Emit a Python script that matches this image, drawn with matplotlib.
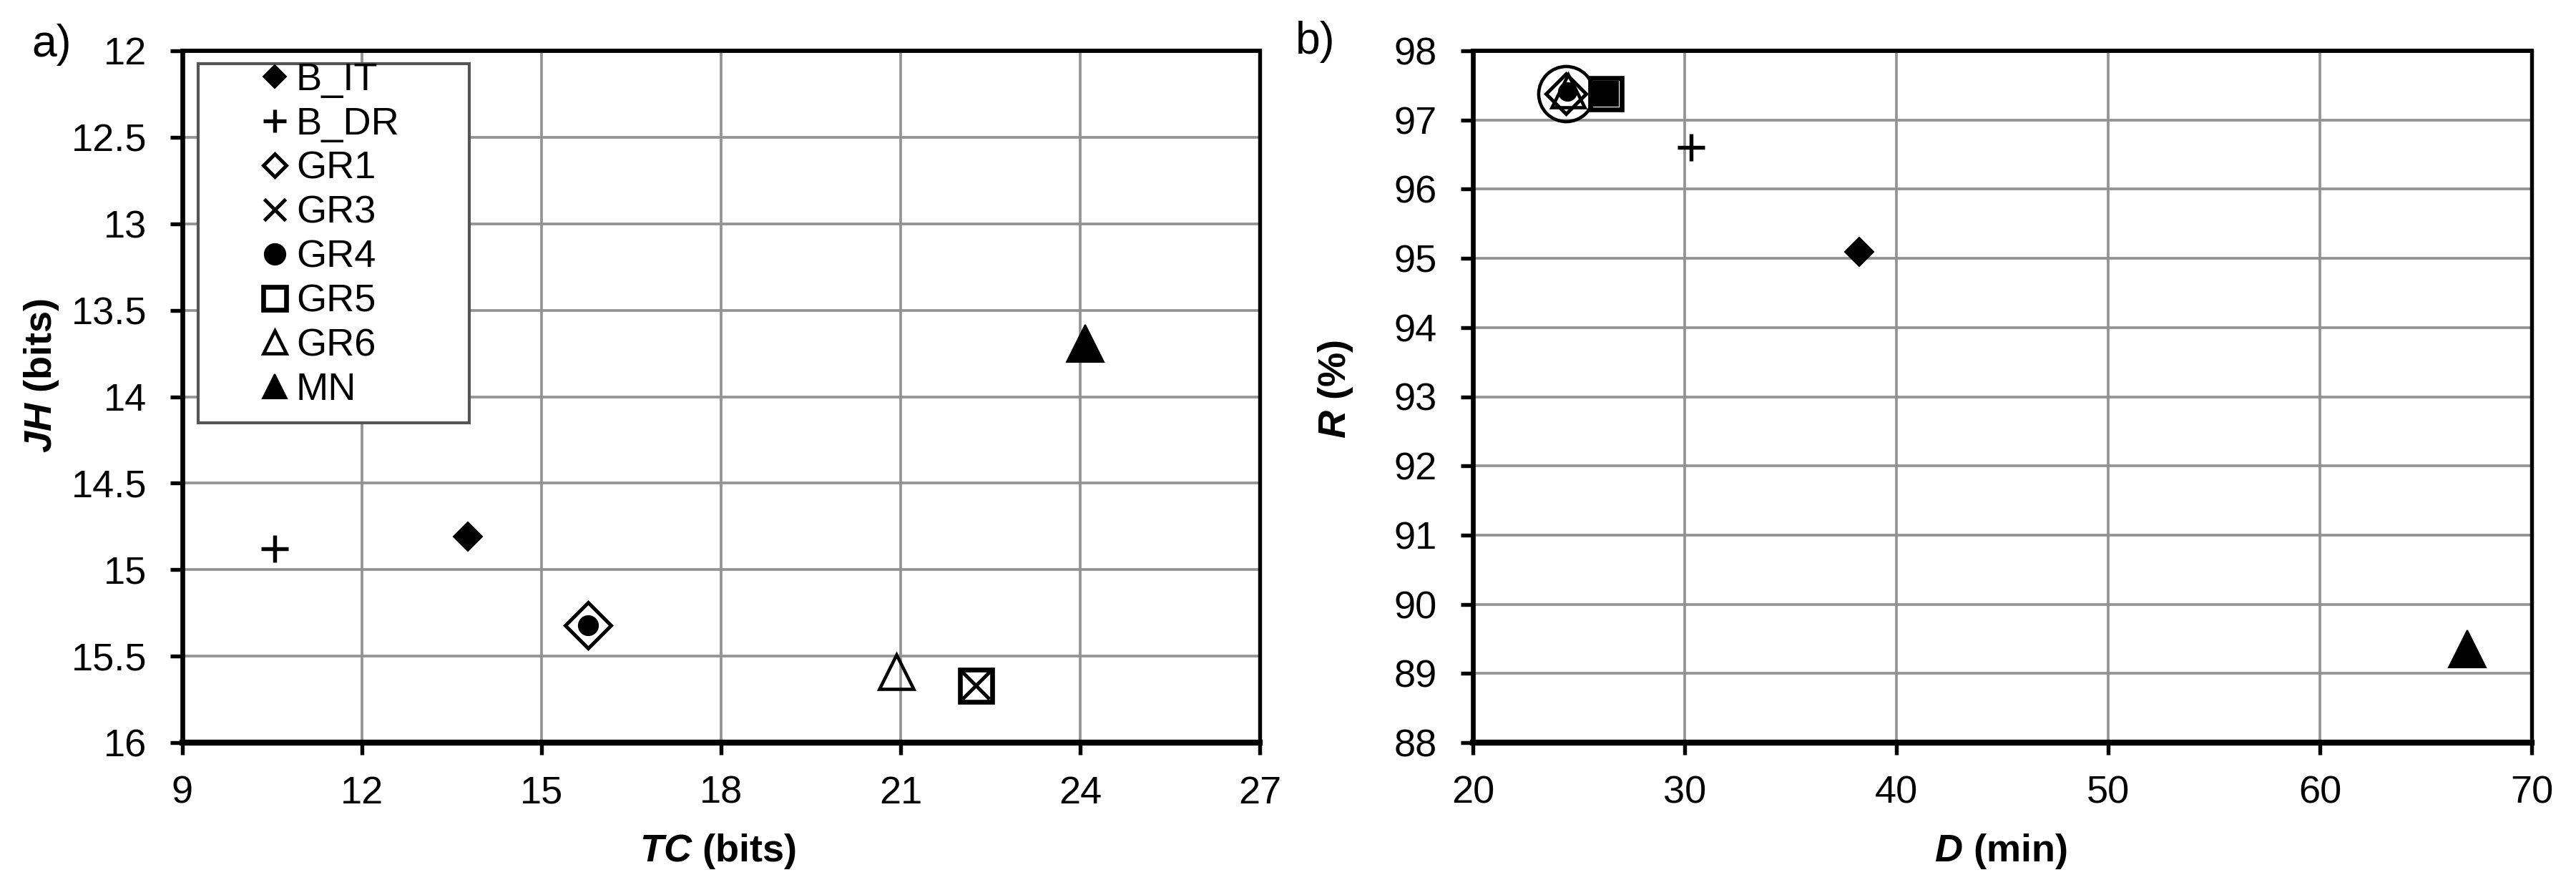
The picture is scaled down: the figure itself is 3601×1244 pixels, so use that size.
import matplotlib
matplotlib.use('Agg')
import matplotlib.pyplot as plt
from matplotlib.lines import Line2D
from matplotlib.patches import Rectangle
from matplotlib.ticker import FuncFormatter

plt.rcParams['font.family'] = ['Liberation Sans', 'DejaVu Sans']
plt.rcParams['mathtext.fontset'] = 'custom'
plt.rcParams['mathtext.it'] = 'Liberation Sans:italic:bold'
plt.rcParams['mathtext.rm'] = 'Liberation Sans:bold'
plt.rcParams['mathtext.bf'] = 'Liberation Sans:bold'

# ---------------- data ----------------
series = ['B_IT', 'B_DR', 'GR1', 'GR3', 'GR4', 'GR5', 'GR6', 'MN']
tc_bits = [13.77, 10.54, 15.78, 22.25, 15.78, 22.25, 20.93, 24.08]
jh_bits = [14.81, 14.88, 15.32, 15.67, 15.32, 15.67, 15.59, 13.69]
d_min = [38.24, 30.30, 24.40, 26.30, 24.45, 26.30, 24.50, 66.96]
r_pct = [95.09, 96.60, 97.38, 97.38, 97.41, 97.38, 97.42, 89.35]

tc_ticks = [9, 12, 15, 18, 21, 24, 27]
jh_ticks = [12, 12.5, 13, 13.5, 14, 14.5, 15, 15.5, 16]
d_ticks = [20, 30, 40, 50, 60, 70]
r_ticks = [88, 89, 90, 91, 92, 93, 94, 95, 96, 97, 98]

# ---------------- styles ----------------
K = 'black'
style_a = {
    'B_IT': dict(marker='D', mfc=K, mec=K, ms=6.8, mew=0.5),
    'B_DR': dict(marker='+', mfc=K, mec=K, ms=9, mew=1.3),
    'GR1': dict(marker='D', mfc='none', mec=K, ms=11, mew=1.2),
    'GR3': dict(marker='x', mfc=K, mec=K, ms=9, mew=1.2),
    'GR4': dict(marker='o', mfc=K, mec=K, ms=6.5, mew=0.5),
    'GR5': dict(marker='s', mfc='none', mec=K, ms=10.8, mew=1.6),
    'GR6': dict(marker='^', mfc='none', mec=K, ms=11.5, mew=1.1),
    'MN': dict(marker='^', mfc=K, mec=K, ms=12.7, mew=0.5),
}
style_b = dict(style_a)
style_b['GR1'] = dict(marker='D', mfc='none', mec=K, ms=9.5, mew=1.2)
style_b['GR3'] = dict(marker='s', mfc=K, mec=K, ms=8, mew=0.5)
style_b['GR4'] = dict(marker='o', mfc=K, mec=K, ms=6, mew=0.5)
style_b['GR5'] = dict(marker='s', mfc='none', mec=K, ms=10.5, mew=1.6)
style_b['GR6'] = dict(marker='^', mfc='none', mec=K, ms=11, mew=1.1)
legend_ms = {'B_IT': 5.5, 'B_DR': 7.5, 'GR1': 5.5, 'GR3': 7, 'GR4': 7,
             'GR5': 7.5, 'GR6': 7.5, 'MN': 8}

GRID = '#939393'
FS = 13

fig = plt.figure(figsize=(3601 / 300, 1244 / 300), dpi=300)
axA = fig.add_axes([255 / 3601, 1 - 1038 / 1244, 1506 / 3601, 967 / 1244])
axB = fig.add_axes([2059 / 3601, 1 - 1038 / 1244, 1480 / 3601, 967 / 1244])


def style_axes(ax):
    ax.set_axisbelow(True)
    ax.grid(True, color=GRID, lw=0.9)
    ax.tick_params(axis='both', which='major', direction='out', length=4,
                   width=1.3, labelsize=FS, colors='black')
    ax.tick_params(axis='y', pad=8)
    ax.tick_params(axis='x', pad=7)
    ax.tick_params(top=False, right=False)
    for side, lw in (('left', 1.6), ('bottom', 2.0), ('top', 1.4), ('right', 1.3)):
        ax.spines[side].set_linewidth(lw)
        ax.spines[side].set_color('black')


fmt = FuncFormatter(lambda v, p: f'{v:g}')

# ---------------- panel a ----------------
for name, x, y in zip(series, tc_bits, jh_bits):
    axA.plot([x], [y], ls='none', zorder=3, **style_a[name])
axA.set_xlim(tc_ticks[0], tc_ticks[-1])
axA.set_ylim(jh_ticks[-1], jh_ticks[0])
axA.set_xticks(tc_ticks)
axA.set_yticks(jh_ticks)
axA.xaxis.set_major_formatter(fmt)
axA.yaxis.set_major_formatter(fmt)
style_axes(axA)
axA.set_xlabel(r'$\mathit{TC}$ (bits)', fontsize=FS, fontweight='bold', va='center')
axA.set_ylabel(r'$\mathit{JH}$ (bits)', fontsize=FS, fontweight='bold', va='center')
axA.xaxis.set_label_coords(0.497, -0.157)
axA.yaxis.set_label_coords(-0.131, 0.53)

handles = []
for name in series:
    st = dict(style_a[name])
    st['ms'] = legend_ms[name]
    handles.append(Line2D([], [], ls='none', **st))
leg = axA.legend(handles, series, loc='upper left', bbox_to_anchor=(0.0677, 0.9835),
                 frameon=False, fontsize=FS, handlelength=1.0, handletextpad=0.05,
                 labelspacing=0.22, borderpad=0, borderaxespad=0)
axA.add_patch(Rectangle((0.0146, 0.4623), 0.266 - 0.0146, 0.9814 - 0.4623,
                        transform=axA.transAxes, fill=True, fc='white', ec='#555555',
                        lw=1.0, zorder=4))
leg.set_zorder(5)

# ---------------- panel b ----------------
i_gr1 = series.index('GR1')
axB.plot([d_min[i_gr1]], [r_pct[i_gr1]], ls='none', marker='o', mfc='none', mec=K,
         ms=18.5, mew=1.1, zorder=3)
for name, x, y in zip(series, d_min, r_pct):
    axB.plot([x], [y], ls='none', zorder=3, **style_b[name])
axB.set_xlim(d_ticks[0], d_ticks[-1])
axB.set_ylim(r_ticks[0], r_ticks[-1])
axB.set_xticks(d_ticks)
axB.set_yticks(r_ticks)
axB.xaxis.set_major_formatter(fmt)
axB.yaxis.set_major_formatter(fmt)
style_axes(axB)
axB.set_xlabel(r'$\mathit{D}$ (min)', fontsize=FS, fontweight='bold', va='center')
axB.set_ylabel(r'$\mathit{R}$ (%)', fontsize=FS, fontweight='bold', va='center')
axB.xaxis.set_label_coords(0.4986, -0.157)
axB.yaxis.set_label_coords(-0.13, 0.511)

fig.text(72 / 3601, 1 - 62 / 1244, 'a)', fontsize=15, ha='center', va='center')
fig.text(1839 / 3601, 1 - 59 / 1244, 'b)', fontsize=15, ha='center', va='center')

fig.savefig('out.png', dpi=300)
